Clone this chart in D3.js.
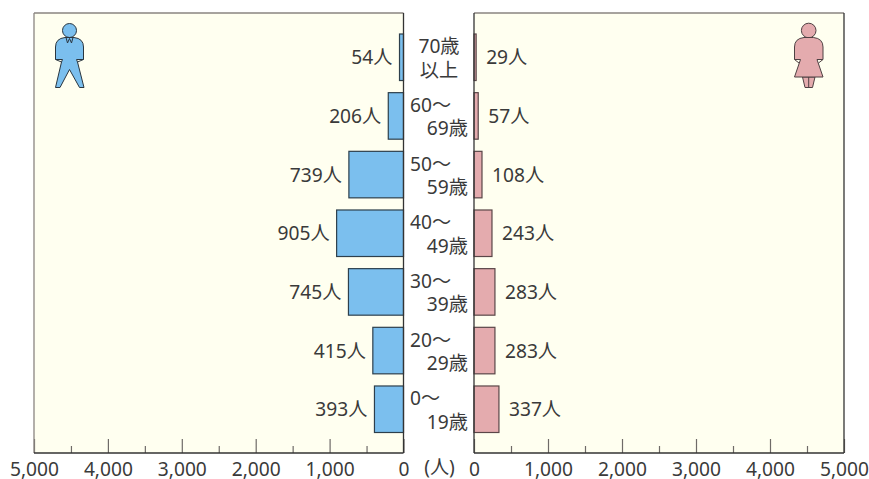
<!DOCTYPE html>
<html lang="ja">
<head>
<meta charset="utf-8">
<script src="https://cdn.jsdelivr.net/npm/d3@7/dist/d3.min.js"></script>
<style>
  html, body { margin: 0; padding: 0; background: #fff; }
  svg { display: block; }
  text { font-family: "Noto Sans", "Noto Sans CJK JP", sans-serif; fill: #3a3a3a; font-size: 19.2px; }
  .axis path.domain { display: none; }
</style>
</head>
<body>
<div id="chart"></div>
<script>
const ageLine1 = ["70歳", "60～", "50～", "40～", "30～", "20～", "0～"];
const ageLine2 = ["以上", "69歳", "59歳", "49歳", "39歳", "29歳", "19歳"];
const maleValues = [54, 206, 739, 905, 745, 415, 393];
const femaleValues = [29, 57, 108, 243, 283, 283, 337];
const majorTicks = [0, 1000, 2000, 3000, 4000, 5000];
const minorTicks = [500, 1500, 2500, 3500, 4500];

const width = 869;
const height = 479;
const plotTop = 13;
const plotBottom = 453;

const maleBlue = "#7bbfee";
const femalePink = "#e4abae";
const panelFill = "#fffff0";
const frameGrey = "#8a8580";
const lineDark = "#333";

const svg = d3.select("#chart").append("svg").attr("width", width).attr("height", height);

const xMale = d3.scaleLinear().domain([0, 5000]).range([403.5, 34]);
const xFemale = d3.scaleLinear().domain([0, 5000]).range([474, 844]);
const y = d3.scaleBand().domain(ageLine2).range([34, 432.5]).paddingInner(0.207);

// panels
svg.append("rect").attr("x", 34).attr("y", plotTop).attr("width", 369.5).attr("height", plotBottom - plotTop).attr("fill", panelFill);
svg.append("rect").attr("x", 474).attr("y", plotTop).attr("width", 370).attr("height", plotBottom - plotTop).attr("fill", panelFill);

// bars
function drawBars(values, x, fill, stroke, cls) {
  svg.append("g").attr("class", cls)
    .selectAll("rect")
    .data(values)
    .join("rect")
    .attr("x", (d) => Math.min(x(0), x(d)))
    .attr("y", (d, i) => y(ageLine2[i]))
    .attr("width", (d) => Math.abs(x(d) - x(0)))
    .attr("height", y.bandwidth())
    .attr("fill", fill)
    .attr("stroke", stroke)
    .attr("stroke-width", 1.2);
}
drawBars(maleValues, xMale, maleBlue, "#2d3f4c", "male-bars");
drawBars(femaleValues, xFemale, femalePink, "#5a4648", "female-bars");

// value labels
const center = (i) => y(ageLine2[i]) + y.bandwidth() / 2;
svg.append("g").selectAll("text")
  .data(maleValues)
  .join("text")
  .attr("x", (d) => xMale(d) - 7)
  .attr("y", (d, i) => center(i) + 7)
  .attr("text-anchor", "end")
  .text((d) => d + "人");
svg.append("g").selectAll("text")
  .data(femaleValues)
  .join("text")
  .attr("x", (d) => xFemale(d) + 10)
  .attr("y", (d, i) => center(i) + 7)
  .text((d) => d + "人");

// age labels
const ageG = svg.append("g");
ageLine1.forEach((label, i) => {
  const first = i === 0;
  ageG.append("text")
    .attr("x", first ? 439 : 410)
    .attr("y", center(i) - 4)
    .attr("text-anchor", first ? "middle" : "start")
    .text(label);
  ageG.append("text")
    .attr("x", first ? 439 : 468)
    .attr("y", center(i) + 19.5)
    .attr("text-anchor", first ? "middle" : "end")
    .text(ageLine2[i]);
});

// axes
function drawAxis(x) {
  const g = svg.append("g").attr("class", "axis").attr("transform", `translate(0,${plotBottom})`);
  g.append("g")
    .call(d3.axisBottom(x).tickValues(majorTicks).tickFormat(d3.format(",")).tickSize(-14).tickPadding(9))
    .call((s) => s.selectAll("line").attr("stroke", "#6f6b68").attr("stroke-width", 1.2))
    .call((s) => s.attr("font-size", null).attr("font-family", null));
  g.append("g")
    .call(d3.axisBottom(x).tickValues(minorTicks).tickFormat("").tickSize(-7))
    .call((s) => s.selectAll("line").attr("stroke", "#6f6b68").attr("stroke-width", 1.2));
}
drawAxis(xMale);
drawAxis(xFemale);

// frames
const frame = (x1, y1, x2, y2, color) =>
  svg.append("line").attr("x1", x1).attr("y1", y1).attr("x2", x2).attr("y2", y2)
    .attr("stroke", color).attr("stroke-width", 1.3);
frame(34, plotTop, 403.5, plotTop, frameGrey);
frame(34, plotTop, 34, plotBottom, frameGrey);
frame(34, plotBottom, 403.5, plotBottom, lineDark);
frame(403.5, plotTop, 403.5, plotBottom, lineDark);
frame(474, plotTop, 844, plotTop, frameGrey);
frame(844, plotTop, 844, plotBottom, lineDark);
frame(474, plotBottom, 844, plotBottom, lineDark);
frame(474, plotTop, 474, plotBottom, lineDark);

svg.append("text").attr("x", 439.5).attr("y", 473.5).attr("text-anchor", "middle").text("(人)");

// pictograms
const man = svg.append("g").attr("fill", maleBlue).attr("stroke", "#2a3640").attr("stroke-width", 1);
man.append("circle").attr("cx", 69.5).attr("cy", 30.5).attr("r", 7);
man.append("path").attr("d", "M65,37.5 H74 Q83.5,38.5 83.5,47 V59.5 H76.5 L77.5,62 L84,87.5 H79.5 L69.5,69.5 L60,87.5 H55.5 L61.5,62 L62.5,59.5 H55.5 V47 Q55.5,38.5 65,37.5 Z");
man.append("path").attr("fill", "none").attr("d", "M66,37.5 L67.5,43 L69.5,38.5 L71.5,43 L73,37.5 M55.5,59.5 L61.5,62 M83.5,59.5 L77.5,62");

const woman = svg.append("g").attr("fill", femalePink).attr("stroke", "#4f4143").attr("stroke-width", 1);
woman.append("circle").attr("cx", 808.7).attr("cy", 30.5).attr("r", 7.3);
woman.append("path").attr("d", "M802.5,77 L805,87.5 H812.5 L815,77 Z M808.7,77 V87.5");
woman.append("path").attr("d", "M804,37.5 H813.5 Q823,38.5 823,47 V59.5 H817 L823,77 H794.5 L800.5,59.5 H794.5 V47 Q794.5,38.5 804,37.5 Z");
woman.append("path").attr("fill", "none").attr("d", "M794.5,59.5 L799,63 M823,59.5 L818.5,63");
</script>
</body>
</html>
